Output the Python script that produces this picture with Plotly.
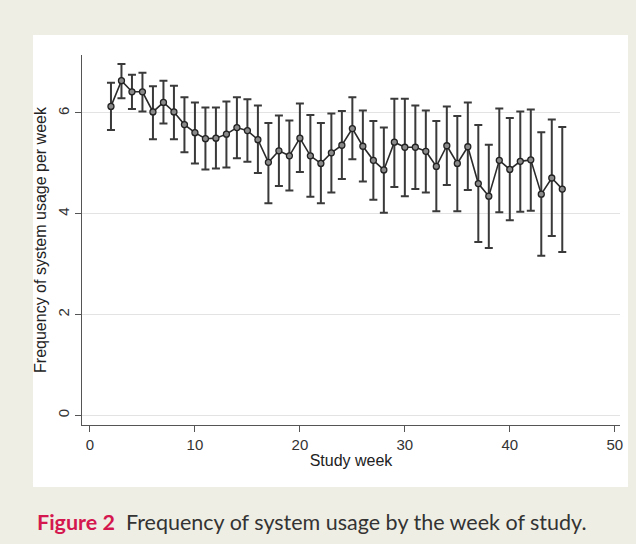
import plotly.graph_objects as go

weeks = list(range(2, 46))
mean_usage = [6.13, 6.64, 6.42, 6.42, 6.02, 6.21, 6.02, 5.77, 5.61, 5.49,
              5.50, 5.58, 5.71, 5.65, 5.47, 5.02, 5.25, 5.15, 5.50, 5.15,
              5.00, 5.21, 5.36, 5.69, 5.34, 5.06, 4.87, 5.42, 5.32, 5.32,
              5.24, 4.94, 5.35, 5.00, 5.33, 4.60, 4.35, 5.06, 4.88, 5.04,
              5.07, 4.39, 4.71, 4.49]
upper_ci = [6.60, 6.97, 6.76, 6.80, 6.53, 6.64, 6.54, 6.31, 6.21, 6.11,
            6.11, 6.23, 6.31, 6.27, 6.15, 5.80, 5.95, 5.85, 6.19, 5.96,
            5.80, 5.99, 6.04, 6.31, 6.05, 5.84, 5.71, 6.28, 6.28, 6.15,
            6.05, 5.84, 6.13, 5.94, 6.21, 5.76, 5.37, 6.09, 5.90, 6.03,
            6.07, 5.62, 5.87, 5.72]
lower_ci = [5.66, 6.29, 6.08, 6.03, 5.48, 5.79, 5.48, 5.22, 5.00, 4.88,
            4.90, 4.92, 5.10, 5.03, 4.81, 4.21, 4.55, 4.46, 4.83, 4.34,
            4.21, 4.42, 4.69, 5.08, 4.64, 4.28, 4.02, 4.53, 4.35, 4.49,
            4.42, 4.05, 4.57, 4.05, 4.47, 3.44, 3.32, 4.03, 3.87, 4.04,
            4.06, 3.17, 3.56, 3.24]
x_ticks = [0, 10, 20, 30, 40, 50]
y_ticks = [0, 2, 4, 6]

err_plus = [u - m for u, m in zip(upper_ci, mean_usage)]
err_minus = [m - l for m, l in zip(mean_usage, lower_ci)]

W, H = 636, 544
L, R, T, B = 82, 16, 55, 119
pw, ph = W - L - R, H - T - B

def px(xpix):
    return (xpix - L) / pw

def py(ypix):
    return (H - B - ypix) / ph

fig = go.Figure()
fig.add_trace(go.Scatter(
    x=weeks, y=mean_usage, mode="lines+markers",
    line=dict(color="#2b2b2b", width=1.6),
    marker=dict(size=6, color="#8a8a8a", line=dict(color="#222222", width=1.3)),
    error_y=dict(type="data", symmetric=False, array=err_plus, arrayminus=err_minus,
                 color="#3a3a3a", thickness=2, width=4),
    showlegend=False,
))

font_main = "Liberation Sans, Arial, sans-serif"

fig.update_layout(
    width=W, height=H,
    margin=dict(l=L, r=R, t=T, b=B),
    paper_bgcolor="#efeee4",
    plot_bgcolor="white",
    font=dict(family=font_main, size=15, color="#333333"),
    xaxis=dict(
        range=[-0.76, 50.5], tickvals=x_ticks, ticks="outside", ticklen=6,
        tickcolor="#555555", showline=True, linecolor="#555555", linewidth=1,
        showgrid=False, zeroline=False,
        title=dict(text="Study week", font=dict(size=16, color="#222222"), standoff=2),
        tickfont=dict(size=15, color="#333333"),
    ),
    yaxis=dict(
        range=[-0.19, 7.15], tickvals=y_ticks, ticks="outside", ticklen=6,
        tickcolor="#555555", showline=True, linecolor="#555555", linewidth=1,
        showgrid=True, gridcolor="#e3e3e3", gridwidth=1, zeroline=False,
        tickangle=-90,
        title=dict(text="Frequency of system usage per week", font=dict(size=16, color="#222222"),
                   standoff=4),
        tickfont=dict(size=15, color="#333333"),
    ),
    shapes=[dict(
        type="rect", xref="paper", yref="paper",
        x0=px(33), x1=px(628), y0=py(487), y1=py(35),
        fillcolor="white", line=dict(width=0), layer="below",
    )],
    annotations=[dict(
        xref="paper", yref="paper", x=px(35), y=py(522),
        xanchor="left", yanchor="middle", showarrow=False,
        text="<b><span style='color:#d4184f'>Figure 2</span></b>  Frequency of system usage by the week of study.",
        font=dict(family="Lato, Open Sans, sans-serif", size=21.5, color="#333333"),
    )],
)

fig.write_html("out.html")
